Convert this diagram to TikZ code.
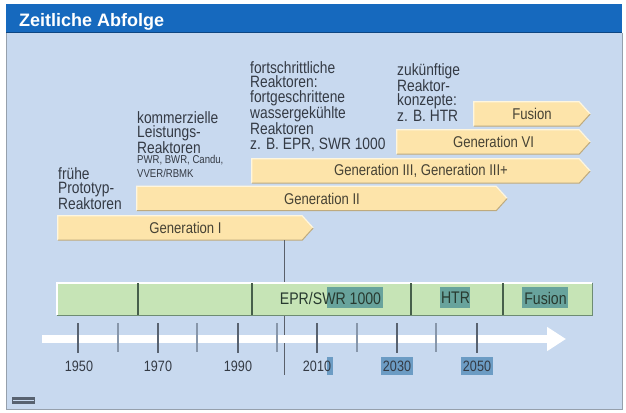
\documentclass[tikz,border=0pt]{standalone}
\usepackage{fontspec}
\setmainfont{Liberation Sans}
\newfontfamily\cond[FakeStretch=0.84]{Liberation Sans}
\usetikzlibrary{arrows.meta}
\pgfdeclarelayer{bg}
\pgfdeclarelayer{barlayer}
\pgfsetlayers{bg,barlayer,main}
\definecolor{titleblue}{RGB}{22,105,190}
\definecolor{titleedge}{RGB}{14,70,130}
\definecolor{bodyblue}{RGB}{200,217,239}
\definecolor{frameedge}{RGB}{150,160,172}
\definecolor{barfill}{RGB}{253,228,170}
\definecolor{baredge}{RGB}{190,170,126}
\definecolor{barlight}{RGB}{255,246,222}
\definecolor{greenfill}{RGB}{198,228,182}
\definecolor{greenedge}{RGB}{110,140,115}
\definecolor{divider}{RGB}{70,95,75}
\definecolor{labeltext}{RGB}{52,58,68}
\definecolor{bartext}{RGB}{70,66,52}
\definecolor{greentext}{RGB}{40,58,48}
\definecolor{hlgreen}{RGB}{104,163,156}
\definecolor{hlblue}{RGB}{108,156,196}
\definecolor{tickdark}{RGB}{88,98,112}
\definecolor{ticklight}{RGB}{135,150,170}
\definecolor{vline}{RGB}{90,96,106}
\newcommand\genshape[1]{%
  \begin{pgfonlayer}{barlayer}
    \fill[barfill] (#1.north west) -- ([xshift=-11pt]#1.north east) -- (#1.east)
      -- ([xshift=-11pt]#1.south east) -- (#1.south west) -- cycle;
    \draw[barlight, line width=1.2pt] (#1.south west) -- (#1.north west) -- ([xshift=-11pt]#1.north east) -- (#1.east);
    \draw[baredge, line width=1pt] (#1.east) -- ([xshift=-11pt]#1.south east) -- (#1.south west);
  \end{pgfonlayer}}
\tikzset{
  genbar/.style={inner sep=0pt, minimum height=24pt,
    text=bartext, font=\cond\fontsize{15.6}{16}\selectfont},
  lbl/.style={anchor=north west, align=left, inner sep=0pt, text=labeltext,
    font=\cond\fontsize{16.4}{14.6}\selectfont},
  smalllbl/.style={anchor=north west, align=left, inner sep=0pt, text=labeltext,
    font=\cond\fontsize{11.4}{13.5}\selectfont},
  yearlbl/.style={inner sep=0pt, text=labeltext, font=\cond\fontsize{15}{16}\selectfont},
  seglbl/.style={inner sep=0pt, text=greentext, font=\cond\fontsize{16.8}{18}\selectfont},
  majortick/.style={draw=tickdark, line width=2.6pt},
  minortick/.style={draw=ticklight, line width=1.3pt},
}
\begin{document}
\begin{tikzpicture}[x=1pt,y=-1pt]
\useasboundingbox (0,0) rectangle (626,412);
% frame and title
\begin{pgfonlayer}{bg}
\fill[white] (0,0) rectangle (626,412);
\fill[bodyblue] (6,4) rectangle (622,409);
\draw[frameedge, line width=1pt] (6,33) -- (6,409) -- (622,409) -- (622,33);
\fill[titleblue] (6,4) rectangle (622,33);
\draw[titleedge, line width=1pt] (6,33) -- (622,33);
\end{pgfonlayer}
\node[anchor=base west, inner sep=0pt, text=white, font=\bfseries\fontsize{18}{20}\selectfont] (title) at (19,26.5) {Zeitliche Abfolge};
% vertical marker line
\coordinate (vtop) at (284,240);
\coordinate (vbot) at (284,375);
\draw[vline, line width=1pt] (vtop) -- (vbot);
% generation bars
\node[genbar, minimum width=255pt] (g1) at (185.5,228) {Generation I};
\genshape{g1}
\node[genbar, minimum width=370pt] (g2) at (322,198.5) {Generation II};
\genshape{g2}
\node[genbar, minimum width=338pt] (g3) at (421,171) {Generation III, Generation III+};
\genshape{g3}
\node[genbar, minimum width=193pt] (g6) at (493.5,142) {Generation VI};
\genshape{g6}
\node[genbar, minimum width=116pt] (gf) at (532,114) {Fusion};
\genshape{gf}
% labels
\node[lbl] (l1) at (58,167) {frühe\\Prototyp-\\Reaktoren};
\node[lbl] (l2) at (137,111) {kommerzielle\\Leistungs-\\Reaktoren};
\node[smalllbl] (l2b) at (137,155.5) {PWR, BWR, Candu,\\VVER/RBMK};
\node[lbl] (l3) at (250,61) {fortschrittliche\\Reaktoren:\\fortgeschrittene\\wassergekühlte\\Reaktoren\\z. B. EPR, SWR 1000};
\node[lbl] (l4) at (397,63) {zukünftige\\Reaktor-\\konzepte:\\z. B. HTR};
% green period bar
\node[fill=greenfill, inner sep=0pt, minimum width=535pt, minimum height=32pt] (gb) at (324.5,299) {};
\draw[white, line width=1.5pt] (gb.south west) -- (gb.north west) -- (gb.north east);
\draw[greenedge, line width=1pt] (gb.south west) -- (gb.south east) -- (gb.north east);
\foreach \dx in {138,252,411,503}
  \draw[divider, line width=1.2pt] (\dx,283) -- (\dx,315);
\fill[hlgreen] (327,287) rectangle (383,308);
\fill[hlgreen] (440,287) rectangle (470,308);
\fill[hlgreen] (522,287) rectangle (568,308);
\node[seglbl] (s1) at (330.5,298) {EPR/SWR 1000};
\node[seglbl] (s2) at (455.5,298) {HTR};
\node[seglbl] (s3) at (545.5,298) {Fusion};
% axis
\coordinate (axs) at (42,339);
\coordinate (axe) at (566,339);
\draw[white, line width=8pt, -{Triangle[length=19pt,width=23pt]}] (axs) -- (axe);
\foreach \tx in {78,158,238,317,397,477}
  \draw[majortick] (\tx,323) -- (\tx,353);
\foreach \tx in {118,197,277,357,436}
  \draw[minortick] (\tx,323) -- (\tx,352);
% year labels
\fill[hlblue] (327,357) rectangle (333,375);
\fill[hlblue] (381,357) rectangle (413,375);
\fill[hlblue] (461,357) rectangle (493,375);
\node[yearlbl] (y1950) at (79,366) {1950};
\node[yearlbl] (y1970) at (158,366) {1970};
\node[yearlbl] (y1990) at (238,366) {1990};
\node[yearlbl] (y2010) at (317,366) {2010};
\node[yearlbl] (y2030) at (397,366) {2030};
\node[yearlbl] (y2050) at (477,366) {2050};
% small logo
\fill[tickdark] (12,397) rectangle (35,404);
\draw[bodyblue, line width=0.6pt] (13,400.5) -- (34,400.5);
\end{tikzpicture}
\end{document}
